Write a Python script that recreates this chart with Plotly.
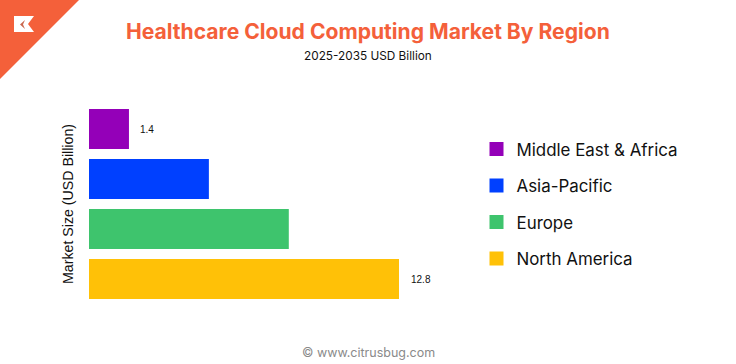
import plotly.graph_objects as go

categories = ["North America", "Europe", "Asia-Pacific", "Middle East & Africa"]
values = [12.8, 8.25, 4.95, 1.65]
value_labels = ["12.8", "", "", "1.4"]
colors = ["#FFC107", "#3EC46D", "#0040FF", "#9400B8"]
legend_order = [3, 2, 1, 0]

W, H = 736, 364
L, R, T, B = 89, 399, 104, 304  # plot area edges
ORANGE = "#F4603A"

def fx(x):
    return (x - L) / (R - L)
def fy(y):
    return 1 - (y - T) / (B - T)
def px(x, y):
    return f"{fx(x)} {fy(y)}"

fig = go.Figure()
fig.add_trace(go.Bar(
    x=values, y=categories, orientation="h",
    marker=dict(color=colors, line=dict(width=0)),
    showlegend=False, hoverinfo="x+y",
))
for i in legend_order:
    fig.add_trace(go.Scatter(
        x=[None], y=[None], mode="markers", name=categories[i], legendgroup=categories[i],
        marker=dict(symbol="square", size=14, color=colors[i], line=dict(width=0)),
    ))

for v, c, t in zip(values, categories, value_labels):
    if t:
        fig.add_annotation(x=v, y=c, text=t, xref="x", yref="y", showarrow=False,
                           xanchor="left", xshift=9.5, yshift=0,
                           font=dict(family="Liberation Sans", size=10, color="#111"))

fig.add_annotation(text="<b>Healthcare Cloud Computing Market By Region</b>", xref="paper", yref="paper",
                   x=fx(368), y=fy(31), xanchor="center", yanchor="middle", showarrow=False,
                   font=dict(family="Inter", size=21.1, color=ORANGE))
fig.add_annotation(text="2025-2035 USD Billion", xref="paper", yref="paper",
                   x=fx(368), y=fy(56), xanchor="center", yanchor="middle", showarrow=False,
                   font=dict(family="Inter", size=11.8, color="#111"))
fig.add_annotation(text="© www.citrusbug.com", xref="paper", yref="paper",
                   x=fx(368), y=fy(352), xanchor="center", yanchor="middle", showarrow=False,
                   font=dict(family="Inter", size=12.5, color="#8a8a8a"))

# corner badge
fig.add_shape(type="path", xref="paper", yref="paper", line=dict(width=0), fillcolor=ORANGE,
              path=f"M {px(0,0)} L {px(79,0)} L {px(0,79)} Z")
fig.add_shape(type="path", xref="paper", yref="paper", line=dict(width=0), fillcolor="white",
              path=f"M {px(14,16)} L {px(34,16)} L {px(28,24)} L {px(34,32)} L {px(14,32)} Z")
fig.add_shape(type="path", xref="paper", yref="paper", line=dict(width=0), fillcolor="#C9684F",
              path=f"M {px(25,20)} L {px(20,24.5)} L {px(25,29)} L {px(23,24.5)} Z")

fig.update_layout(
    width=W, height=H, paper_bgcolor="white", plot_bgcolor="white",
    margin=dict(l=L, r=W - R, t=T, b=H - B, autoexpand=False),
    bargap=0.2,
    xaxis=dict(range=[0, 12.8], visible=False, fixedrange=True),
    yaxis=dict(type="category", categoryorder="array", categoryarray=categories,
               showticklabels=False, showgrid=False, zeroline=False, showline=False, ticks="",
               title=dict(text="Market Size (USD Billion)", standoff=11,
                          font=dict(family="Liberation Sans", size=14.2, color="#111")),
               fixedrange=True),
    legend=dict(x=fx(476.5), xref="paper", y=fy(204), yanchor="middle",
                font=dict(family="Inter", size=16.9, color="#111"),
                tracegroupgap=11.5, itemclick=False, itemdoubleclick=False,
                bgcolor="rgba(0,0,0,0)", traceorder="grouped"),
    showlegend=True,
)
fig.write_html("out.html", post_script="document.body.style.margin='0';document.body.style.overflow='hidden';",
               config={"displayModeBar": False})
